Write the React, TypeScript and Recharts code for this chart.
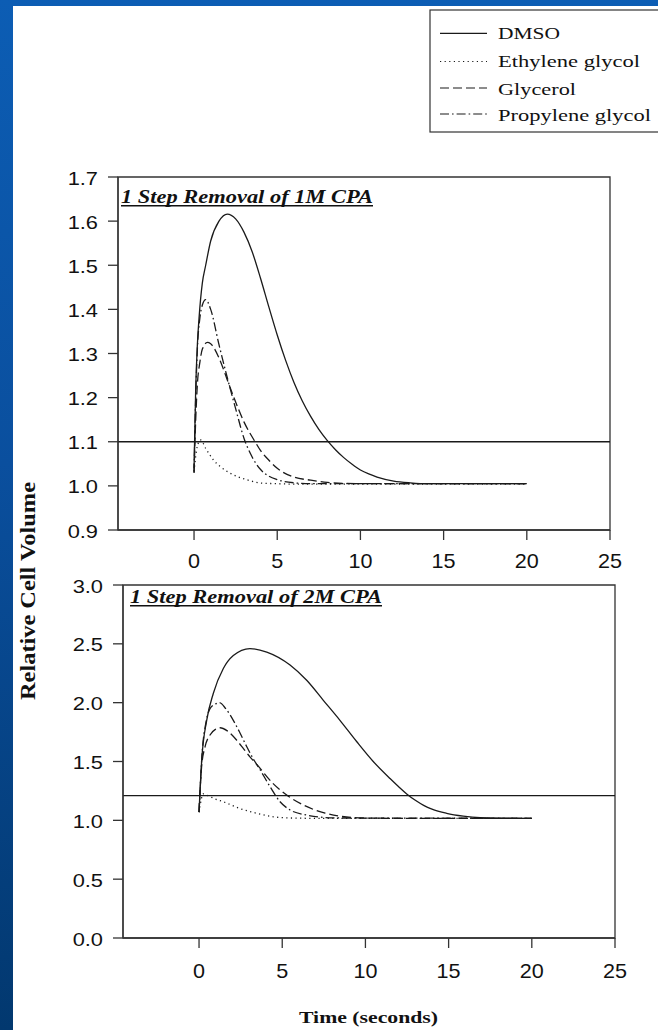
import React from 'react';
import { LineChart, Line, XAxis, YAxis, ReferenceLine, ReferenceArea } from 'recharts';

// ---------- tick labels ----------
const timeTicks = [0, 5, 10, 15, 20, 25];
const yTicks1M = [0.9, 1.0, 1.1, 1.2, 1.3, 1.4, 1.5, 1.6, 1.7];
const yTicks2M = [0, 0.5, 1.0, 1.5, 2.0, 2.5, 3.0];

// ---------- series names ----------
const seriesNames = ['DMSO', 'Ethylene glycol', 'Glycerol', 'Propylene glycol'];

// ---------- 1 Step Removal of 1M CPA ----------
const dmso1M_t = [0, 0.1, 0.2, 0.3, 0.5, 0.7, 1.0, 1.5, 2.0, 2.5, 3.0, 3.5, 4.0, 4.5, 5.0, 5.5, 6.0, 6.5, 7.0, 7.5, 8.0, 8.5, 9.0, 9.5, 10, 10.5, 11, 12, 13, 14, 20];
const dmso1M_v = [1.04, 1.22, 1.32, 1.38, 1.46, 1.5, 1.555, 1.6, 1.616, 1.605, 1.575, 1.53, 1.47, 1.405, 1.342, 1.285, 1.235, 1.193, 1.158, 1.128, 1.103, 1.082, 1.064, 1.049, 1.036, 1.027, 1.02, 1.011, 1.007, 1.005, 1.005];

const eg1M_t = [0, 0.2, 0.4, 0.7, 1.16, 1.6, 2.16, 3.16, 4.16, 5, 6, 20];
const eg1M_v = [1.033, 1.09, 1.104, 1.085, 1.059, 1.043, 1.029, 1.014, 1.006, 1.005, 1.004, 1.004];

const gly1M_t = [0, 0.1, 0.2, 0.35, 0.5, 0.8, 1.0, 1.5, 2.0, 2.5, 3.0, 3.67, 4.0, 4.5, 5.0, 6.0, 7.0, 8.0, 10, 20];
const gly1M_v = [1.03, 1.15, 1.23, 1.28, 1.31, 1.325, 1.322, 1.29, 1.24, 1.19, 1.145, 1.1, 1.08, 1.058, 1.04, 1.02, 1.013, 1.008, 1.005, 1.005];

const pg1M_t = [0, 0.1, 0.2, 0.35, 0.5, 0.7, 1.0, 1.5, 2.0, 2.5, 3.0, 3.5, 4.0, 4.5, 5.0, 6.0, 7.0, 20];
const pg1M_v = [1.03, 1.2, 1.31, 1.38, 1.41, 1.422, 1.4, 1.32, 1.245, 1.175, 1.108, 1.065, 1.037, 1.022, 1.014, 1.007, 1.005, 1.005];

// ---------- 1 Step Removal of 2M CPA ----------
const dmso2M_t = [0, 0.16, 0.46, 0.86, 1.46, 2.06, 3.06, 4.07, 5.47, 6.47, 7.47, 8.47, 9.47, 10.47, 11.48, 12.0, 12.5, 13.0, 13.5, 14.0, 14.88, 15.88, 16.9, 18, 20];
const dmso2M_v = [1.07, 1.51, 1.85, 2.08, 2.29, 2.4, 2.46, 2.43, 2.32, 2.19, 2.02, 1.85, 1.67, 1.5, 1.355, 1.285, 1.222, 1.17, 1.127, 1.095, 1.06, 1.036, 1.022, 1.018, 1.017];

const eg2M_t = [0, 0.26, 0.6, 1.0, 1.46, 2.46, 3.47, 4.47, 5.47, 7, 20];
const eg2M_v = [1.07, 1.225, 1.205, 1.18, 1.158, 1.1, 1.06, 1.03, 1.02, 1.017, 1.017];

const gly2M_t = [0, 0.15, 0.36, 0.66, 1.0, 1.26, 1.7, 2.27, 2.67, 3.06, 3.47, 4.47, 5.27, 6.27, 7.47, 8.47, 9.87, 12, 20];
const gly2M_v = [1.07, 1.45, 1.625, 1.725, 1.775, 1.787, 1.76, 1.68, 1.61, 1.54, 1.475, 1.31, 1.215, 1.13, 1.065, 1.035, 1.02, 1.017, 1.017];

const pg2M_t = [0, 0.2, 0.4, 0.66, 1.0, 1.22, 1.6, 2.06, 2.47, 2.87, 3.27, 3.67, 4.27, 4.87, 5.47, 6.47, 7.47, 8.5, 20];
const pg2M_v = [1.07, 1.6, 1.82, 1.95, 1.99, 2.0, 1.95, 1.85, 1.74, 1.625, 1.52, 1.43, 1.285, 1.158, 1.088, 1.045, 1.025, 1.02, 1.017];

// isotonic reference lines
const refLevel1M = 1.1;
const refLevel2M = 1.21;

const zip = (t: number[], v: number[]) => t.map((tt, i) => ({ t: tt, v: v[i] }));

const INK = '#1a1a1a';
const AXIS = '#333';
const dashes = ['0', '1.2 3.4', '9 4', '9 3 1.6 3'];

const xDomain: [number, number] = [-4.57, 25];

const makeYTick = () => (props: any) => {
  const { x, y, payload } = props;
  return (
    <text
      transform={`translate(${x - 10},${y + 7.5}) scale(1.18,1)`}
      textAnchor="end"
      fontFamily="'Liberation Sans', Arial, sans-serif"
      fontSize={18.5}
      fill="#111"
    >
      {Number(payload.value).toFixed(1)}
    </text>
  );
};

const makeXTick = (dy: number) => (props: any) => {
  const { x, y, payload } = props;
  return (
    <text
      transform={`translate(${x},${y + dy}) scale(1.08,1)`}
      textAnchor="middle"
      fontFamily="'Liberation Sans', Arial, sans-serif"
      fontSize={20}
      fill="#111"
    >
      {payload.value}
    </text>
  );
};

type PanelProps = {
  top: number;
  height: number;
  margin: { top: number; right: number; bottom: number; left: number };
  yDomain: [number, number];
  yTicks: number[];
  refLevel: number;
  series: { t: number; v: number }[][];
  xDy: number;
};

const Panel = ({ top, height, margin, yDomain, yTicks, refLevel, series, xDy }: PanelProps) => (
  <div style={{ position: 'absolute', left: 0, top }}>
    <LineChart width={658} height={height} margin={margin}>
      <XAxis
        dataKey="t"
        type="number"
        domain={xDomain}
        allowDataOverflow
        ticks={timeTicks}
        interval={0}
        tickSize={10}
        tickMargin={0}
        height={40}
        axisLine={{ stroke: AXIS, strokeWidth: 1.3 }}
        tickLine={{ stroke: AXIS, strokeWidth: 1.3 }}
        tick={makeXTick(xDy)}
      />
      <YAxis
        dataKey="v"
        type="number"
        domain={yDomain}
        allowDataOverflow
        ticks={yTicks}
        interval={0}
        tickSize={10}
        tickMargin={0}
        width={60}
        axisLine={{ stroke: AXIS, strokeWidth: 1.3 }}
        tickLine={{ stroke: AXIS, strokeWidth: 1.3 }}
        tick={makeYTick()}
      />
      <ReferenceArea
        x1={xDomain[0]}
        x2={xDomain[1]}
        y1={yDomain[0]}
        y2={yDomain[1]}
        fill="#fff"
        fillOpacity={0}
        stroke={AXIS}
        strokeWidth={1.3}
        ifOverflow="visible"
      />
      <ReferenceLine y={refLevel} stroke={INK} strokeWidth={1.3} />
      {series.map((d, i) => (
        <Line
          key={seriesNames[i]}
          data={d}
          dataKey="v"
          name={seriesNames[i]}
          type="monotone"
          stroke={INK}
          strokeWidth={1.3}
          strokeDasharray={dashes[i]}
          dot={false}
          activeDot={false}
          isAnimationActive={false}
        />
      ))}
    </LineChart>
  </div>
);

const legendRows = [
  { y: 38.5, line: 33.3, len: 62 },
  { y: 66.5, line: 61.5, len: 142 },
  { y: 94.5, line: 88, len: 78 },
  { y: 121, line: 114, len: 153 },
];

export default function App() {
  const series1M = [zip(dmso1M_t, dmso1M_v), zip(eg1M_t, eg1M_v), zip(gly1M_t, gly1M_v), zip(pg1M_t, pg1M_v)];
  const series2M = [zip(dmso2M_t, dmso2M_v), zip(eg2M_t, eg2M_v), zip(gly2M_t, gly2M_v), zip(pg2M_t, pg2M_v)];
  return (
    <div
      style={{
        position: 'absolute',
        left: 0,
        top: 0,
        width: 658,
        height: 1030,
        overflow: 'hidden',
        background: 'linear-gradient(180deg, #0c5db4 0%, #0a4f9e 45%, #02386f 100%)',
      }}
    >
      <div style={{ position: 'absolute', left: 13, top: 6, right: 0, bottom: 0, background: '#fff' }} />
      <Panel
        top={0}
        height={575}
        margin={{ top: 177, right: 48, bottom: 5, left: 58 }}
        yDomain={[0.9, 1.7]}
        yTicks={yTicks1M}
        refLevel={refLevel1M}
        series={series1M}
        xDy={28}
      />
      <Panel
        top={575}
        height={455}
        margin={{ top: 10, right: 43, bottom: 52, left: 63 }}
        yDomain={[0, 3]}
        yTicks={yTicks2M}
        refLevel={refLevel2M}
        series={series2M}
        xDy={30}
      />
      <svg
        width={658}
        height={1030}
        style={{ position: 'absolute', left: 0, top: 0, pointerEvents: 'none' }}
      >
        {/* legend */}
        <rect x={430} y={10} width={260} height={122} fill="#fff" stroke={AXIS} strokeWidth={1.2} />
        {legendRows.map((r, i) => (
          <g key={seriesNames[i]}>
            <line x1={440} x2={487} y1={r.line} y2={r.line} stroke={INK} strokeWidth={1.2} strokeDasharray={dashes[i]} />
            <text
              x={498}
              y={r.y}
              textLength={r.len}
              lengthAdjust="spacingAndGlyphs"
              fontFamily="'Liberation Serif', 'Times New Roman', serif"
              fontSize={17.5}
              fill="#111"
            >
              {seriesNames[i]}
            </text>
          </g>
        ))}
        {/* panel titles */}
        <text
          x={121}
          y={203}
          textLength={252}
          lengthAdjust="spacingAndGlyphs"
          fontFamily="'Liberation Serif', 'Times New Roman', serif"
          fontSize={19}
          fontWeight="bold"
          fontStyle="italic"
          fill="#111"
        >
          1 Step Removal of 1M CPA
        </text>
        <line x1={121} x2={373} y1={205.8} y2={205.8} stroke="#111" strokeWidth={1.4} />
        <text
          x={130}
          y={603}
          textLength={252}
          lengthAdjust="spacingAndGlyphs"
          fontFamily="'Liberation Serif', 'Times New Roman', serif"
          fontSize={19}
          fontWeight="bold"
          fontStyle="italic"
          fill="#111"
        >
          1 Step Removal of 2M CPA
        </text>
        <line x1={130} x2={382} y1={605.8} y2={605.8} stroke="#111" strokeWidth={1.4} />
        {/* axis titles */}
        <text
          transform="translate(34.5,591) rotate(-90)"
          textAnchor="middle"
          textLength={218}
          lengthAdjust="spacingAndGlyphs"
          fontFamily="'Liberation Serif', 'Times New Roman', serif"
          fontSize={20}
          fontWeight="bold"
          fill="#111"
        >
          Relative Cell Volume
        </text>
        <text
          x={368.5}
          y={1023}
          textAnchor="middle"
          textLength={139}
          lengthAdjust="spacingAndGlyphs"
          fontFamily="'Liberation Serif', 'Times New Roman', serif"
          fontSize={17}
          fontWeight="bold"
          fill="#111"
        >
          Time (seconds)
        </text>
      </svg>
    </div>
  );
}
